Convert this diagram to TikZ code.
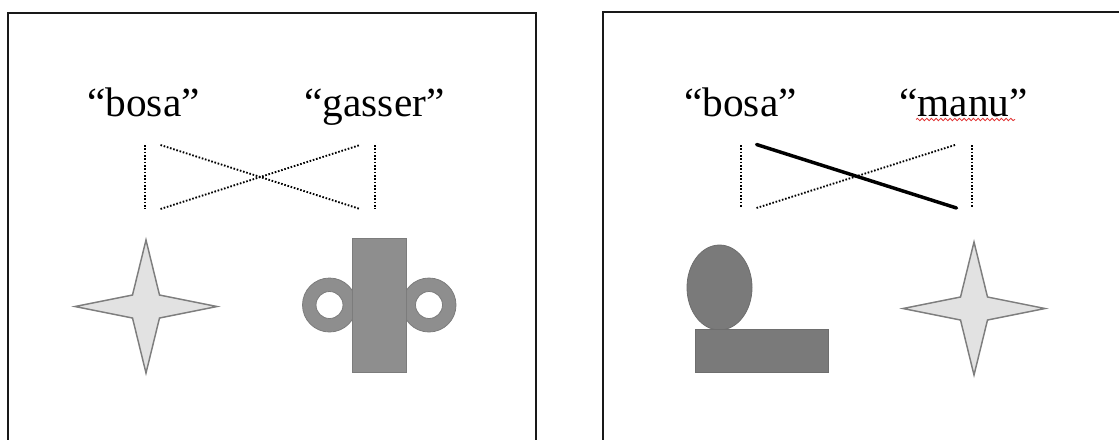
\documentclass[tikz,border=0pt]{standalone}
\usepackage{fontspec}
\setmainfont{Liberation Serif}
\usetikzlibrary{decorations.pathmorphing}
\definecolor{starfill}{HTML}{E2E2E2}
\definecolor{starline}{HTML}{7E7E7E}
\definecolor{blockA}{HTML}{8E8E8E}
\definecolor{blockAline}{HTML}{7C7C7C}
\definecolor{blockB}{HTML}{7A7A7A}
\definecolor{blockBline}{HTML}{6E6E6E}
\definecolor{spell}{HTML}{E03030}
\begin{document}
\begin{tikzpicture}[x=0.75pt,y=-0.75pt,
  panel/.style={line width=1.6pt, draw=black!90},
  word/.style={anchor=base, inner sep=0pt, font=\fontsize{31}{36}\selectfont},
  dots/.style={line width=1.4pt, dash pattern=on 1.2pt off 1.3pt, black},
  bond/.style={line width=2.6pt, black, line cap=round},
  starshape/.style={fill=starfill, draw=starline, line width=1.1pt},
  fourstar/.pic={
    \path[starshape] (0,-66.5) -- (13.5,-11.5) -- (71,0) -- (13.5,11.5) -- (0,66.5)
      -- (-13.5,11.5) -- (-71,0) -- (-13.5,-11.5) -- cycle;
  }]
\useasboundingbox (0,0) rectangle (1119,439);
\clip (0,0) rectangle (1119,439);

% frames
\draw[panel] (8,13) rectangle (536,470);
\draw[panel] (603,12) rectangle (1140,470);

% ---------- left frame ----------
\node[word] (wA) at (143.5,116.5) {“bosa”};
\node[word] (wB) at (374.5,116.5) {“gasser”};

\coordinate (a1) at (145,145);
\coordinate (a2) at (145,209);
\coordinate (b1) at (375,145);
\coordinate (b2) at (375,209);
\coordinate (c1) at (160.5,145);
\coordinate (c2) at (160.5,209);
\coordinate (d1) at (360,145);
\coordinate (d2) at (360,209);
\draw[dots] (a1) -- (a2);
\draw[dots] (b1) -- (b2);
\draw[dots] (c1) -- (d2);
\draw[dots] (c2) -- (d1);

\pic at (146,306.5) {fourstar};

% rings and upright block
\fill[blockA, draw=blockAline, line width=0.6pt, even odd rule]
  (329.5,305) circle[radius=27] (329.5,305) circle[radius=13.5];
\fill[blockA, draw=blockAline, line width=0.6pt, even odd rule]
  (429,305) circle[radius=27] (429,305) circle[radius=13.5];
\filldraw[fill=blockA, draw=blockAline, line width=0.6pt] (352.5,238) rectangle (406.5,372);

% ---------- right frame ----------
\node[word] (wC) at (740.5,116) {“bosa”};
\node[word] (wD) at (963.5,116) {“manu”};
\draw[spell, line width=0.6pt, decorate,
  decoration={snake, amplitude=0.9, segment length=3.5}] (916,119.5) -- (1015,119.5);

\coordinate (e1) at (741,145);
\coordinate (e2) at (741,208);
\coordinate (f1) at (972,145);
\coordinate (f2) at (972,208);
\coordinate (g1) at (756.5,144.5);
\coordinate (g2) at (756.5,208);
\coordinate (h1) at (956.5,144.5);
\coordinate (h2) at (956.5,208);
\draw[dots] (e1) -- (e2);
\draw[dots] (f1) -- (f2);
\draw[dots] (g2) -- (h1);
\draw[bond] (g1) -- (h2);

% head on a block
\filldraw[fill=blockB, draw=blockBline, line width=0.6pt] (719.5,287.5) ellipse[x radius=32.5, y radius=42.5];
\filldraw[fill=blockB, draw=blockBline, line width=0.6pt] (695,329.5) rectangle (828.5,372.5);

\pic at (974,308.5) {fourstar};
\end{tikzpicture}
\end{document}
